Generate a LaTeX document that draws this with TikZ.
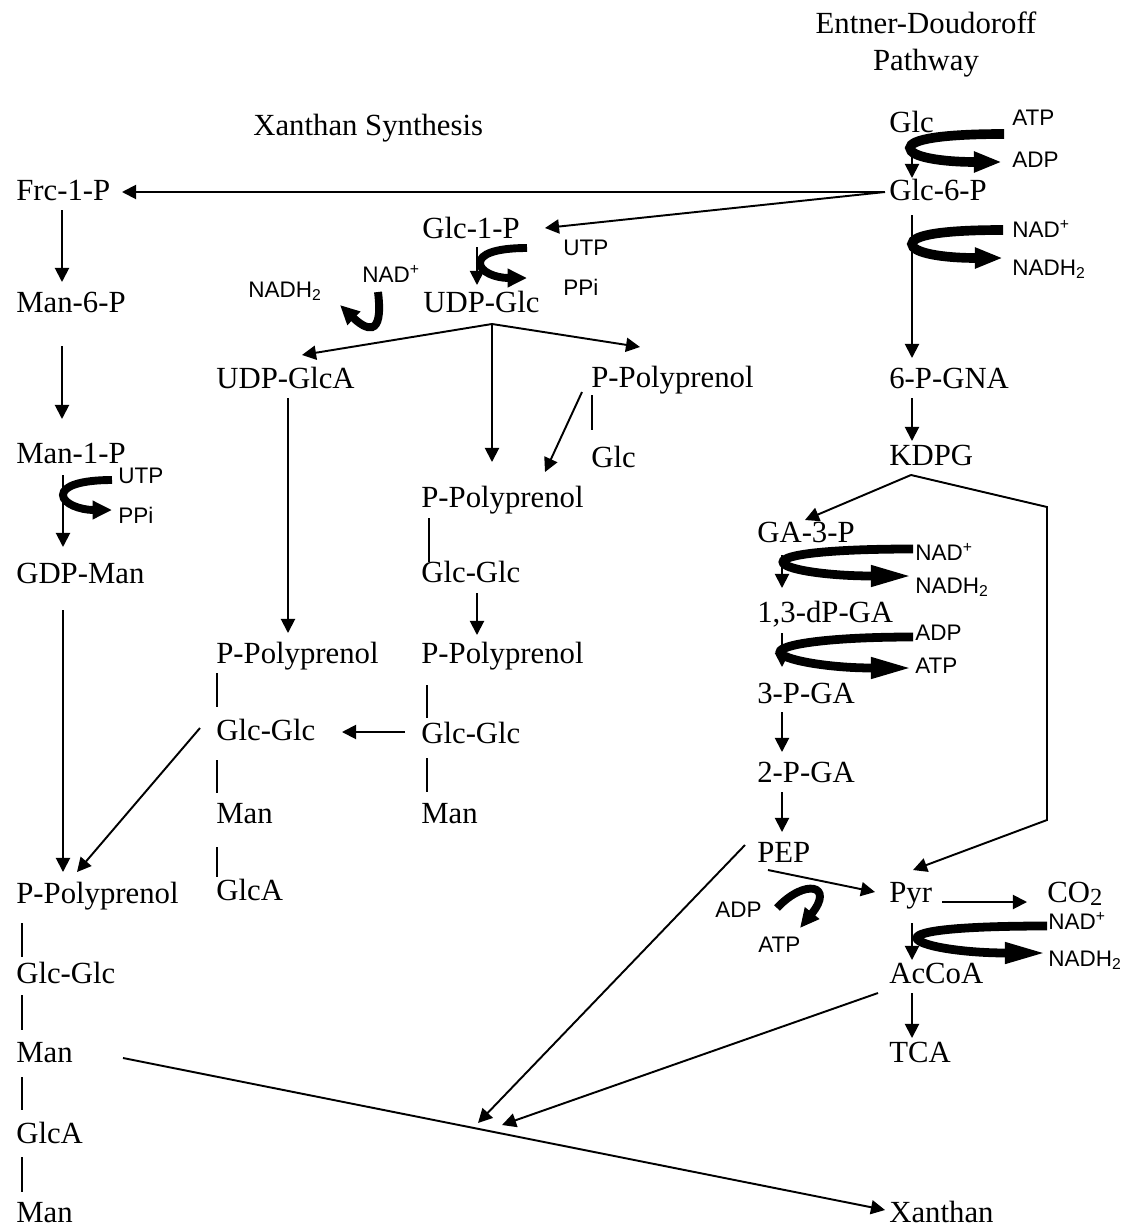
\documentclass[tikz,border=0pt]{standalone}
\usepackage{fontspec}
\setmainfont{Liberation Serif}
\newfontfamily\cofont{Liberation Sans}
\usetikzlibrary{arrows.meta}

\tikzset{
	mol/.style={anchor=base west,inner sep=0pt,font=\fontsize{17.5}{21}\selectfont},
	cof/.style={anchor=base west,inner sep=0pt,font=\cofont\fontsize{12.8}{15}\selectfont},
	arr/.style={line width=1.1pt,-{Triangle[length=8pt,width=8pt]}},
	bond/.style={line width=0.9pt},
	coarr/.style={line width=5.5pt,-{Triangle[length=16pt,width=11pt]}},
	coarrlong/.style={line width=5pt,-{Triangle[length=24pt,width=11pt]}},
	coarrsmall/.style={line width=4.5pt,-{Triangle[length=11pt,width=10pt]}}
}

\begin{document}
\begin{tikzpicture}[x=0.02cm,y=-0.02cm]
	\useasboundingbox (0,0) rectangle (1121,1227);

	% titles
	\node[mol,anchor=base] (edone) at (926,33) {Entner-Doudoroff};
	\node[mol,anchor=base] (edtwo) at (926,70) {Pathway};
	\node[mol] (xsyn) at (253,135) {Xanthan Synthesis};

	% Entner-Doudoroff pathway
	\node[mol] (glc) at (889,132) {Glc};
	\node[mol] (glcsixp) at (889,200) {Glc-6-P};
	\node[mol] (pgna) at (889,388) {6-P-GNA};
	\node[mol] (kdpg) at (889,465) {KDPG};
	\node[mol] (gathreep) at (757,542) {GA-3-P};
	\node[mol] (dpga) at (757,622) {1,3-dP-GA};
	\node[mol] (threepga) at (757,703) {3-P-GA};
	\node[mol] (twopga) at (757,782) {2-P-GA};
	\node[mol] (pep) at (757,862) {PEP};
	\node[mol] (pyr) at (889,902) {Pyr};
	\node[mol] (cotwo) at (1047,902) {CO\raisebox{-2pt}{\fontsize{14}{14}\selectfont 2}};
	\node[mol] (accoa) at (889,983) {AcCoA};
	\node[mol] (tca) at (889,1062) {TCA};
	\node[mol] (xanthan) at (889,1222) {Xanthan};

	% GDP-Man branch
	\node[mol] (frc) at (16,200) {Frc-1-P};
	\node[mol] (mansixp) at (16,312) {Man-6-P};
	\node[mol] (manonep) at (16,463) {Man-1-P};
	\node[mol] (gdpman) at (16,583) {GDP-Man};
	\node[mol] (lpp) at (16,903) {P-Polyprenol};
	\node[mol] (lgg) at (16,983) {Glc-Glc};
	\node[mol] (lman) at (16,1062) {Man};
	\node[mol] (lglca) at (16,1143) {GlcA};
	\node[mol] (lmanb) at (16,1222) {Man};

	% UDP-GlcA branch
	\node[mol] (udpglca) at (216,388) {UDP-GlcA};
	\node[mol] (bpp) at (216,663) {P-Polyprenol};
	\node[mol] (bgg) at (216,740) {Glc-Glc};
	\node[mol] (bman) at (216,823) {Man};
	\node[mol] (bglca) at (216,900) {GlcA};

	% UDP-Glc branch
	\node[mol] (glconep) at (422,238) {Glc-1-P};
	\node[mol] (udpglc) at (423,312) {UDP-Glc};
	\node[mol] (cpp) at (421,507) {P-Polyprenol};
	\node[mol] (cgg) at (421,582) {Glc-Glc};
	\node[mol] (cppb) at (421,663) {P-Polyprenol};
	\node[mol] (cggb) at (421,743) {Glc-Glc};
	\node[mol] (cman) at (421,823) {Man};
	\node[mol] (dpp) at (591,387) {P-Polyprenol};
	\node[mol] (dglc) at (591,467) {Glc};

	% cofactors
	\node[cof] (atpa) at (1012,125) {ATP};
	\node[cof] (adpa) at (1012,167) {ADP};
	\node[cof] (nada) at (1012,237) {NAD\textsuperscript{+}};
	\node[cof] (nadha) at (1012,275) {NADH\textsubscript{2}};
	\node[cof] (utpa) at (563,255) {UTP};
	\node[cof] (ppia) at (563,295) {PPi};
	\node[cof] (nadhb) at (248,297) {NADH\textsubscript{2}};
	\node[cof] (nadb) at (362,282) {NAD\textsuperscript{+}};
	\node[cof] (utpb) at (118,483) {UTP};
	\node[cof] (ppib) at (118,523) {PPi};
	\node[cof] (nadc) at (915,560) {NAD\textsuperscript{+}};
	\node[cof] (nadhc) at (915,593) {NADH\textsubscript{2}};
	\node[cof] (adpc) at (915,640) {ADP};
	\node[cof] (atpc) at (915,673) {ATP};
	\node[cof] (adpd) at (715,917) {ADP};
	\node[cof] (atpd) at (758,952) {ATP};
	\node[cof] (nadd) at (1048,929) {NAD\textsuperscript{+}};
	\node[cof] (nadhd) at (1048,966) {NADH\textsubscript{2}};

	\coordinate (merge) at (490,1126);

	% Entner-Doudoroff arrows
	\draw[arr] ([shift={(23,8)}]glc.base west) -- ([shift={(23,-22)}]glcsixp.base west);
	\draw[arr] ([shift={(23,15)}]glcsixp.base west) -- ([shift={(23,-30)}]pgna.base west);
	\draw[arr] ([shift={(23,10)}]pgna.base west) -- ([shift={(23,-24)}]kdpg.base west);
	\draw[arr] ([shift={(22,10)}]kdpg.base west) -- ([shift={(48,-22)}]gathreep.base west);
	\draw[arr] ([shift={(22,10)}]kdpg.base west) -- ++(136,32) -- ++(0,313) -- ([shift={(24,-32)}]pyr.base west);
	\draw[arr] ([shift={(25,13)}]gathreep.base west) -- ([shift={(25,-34)}]dpga.base west);
	\draw[arr] ([shift={(25,11)}]dpga.base west) -- ([shift={(25,-36)}]threepga.base west);
	\draw[arr] ([shift={(25,9)}]threepga.base west) -- ([shift={(25,-30)}]twopga.base west);
	\draw[arr] ([shift={(25,10)}]twopga.base west) -- ([shift={(25,-30)}]pep.base west);
	\draw[arr] ([shift={(11,8)}]pep.base west) -- ([shift={(-14,-10)}]pyr.base west);
	\draw[arr] ([shift={(53,0)}]pyr.base west) -- ([shift={(-20,0)}]cotwo.base west);
	\draw[arr] ([shift={(23,21)}]pyr.base west) -- ([shift={(23,-23)}]accoa.base west);
	\draw[arr] ([shift={(23,10)}]accoa.base west) -- ([shift={(23,-24)}]tca.base west);
	\draw[arr] ([shift={(-11,10)}]accoa.base west) -- ([shift={(12,-1)}]merge);
	\draw[arr] ([shift={(-12,-17)}]pep.base west) -- ([shift={(-12,-3)}]merge);
	\draw[arr] ([shift={(107,-4)}]lman.base west) -- ([shift={(-4,-12)}]xanthan.base west);

	% xanthan synthesis arrows
	\draw[arr] ([shift={(-4,-8)}]glcsixp.base west) -- ([shift={(106,-8)}]frc.base west);
	\draw[arr] ([shift={(-4,-8)}]glcsixp.base west) -- ([shift={(123,-10)}]glconep.base west);
	\draw[arr] ([shift={(46,10)}]frc.base west) -- ([shift={(46,-30)}]mansixp.base west);
	\draw[arr] ([shift={(46,34)}]mansixp.base west) -- ([shift={(46,-44)}]manonep.base west);
	\draw[arr] ([shift={(47,12)}]manonep.base west) -- ([shift={(47,-36)}]gdpman.base west);
	\draw[arr] ([shift={(47,27)}]gdpman.base west) -- ([shift={(47,-31)}]lpp.base west);
	\draw[arr] ([shift={(-16,-12)}]bgg.base west) -- ([shift={(61,-31)}]lpp.base west);
	\draw[arr] ([shift={(55,9)}]glconep.base west) -- ([shift={(54,-27)}]udpglc.base west);
	\draw[arr] ([shift={(69,12)}]udpglc.base west) -- ([shift={(86,-33)}]udpglca.base west);
	\draw[arr] ([shift={(69,12)}]udpglc.base west) -- ([shift={(49,-40)}]dpp.base west);
	\draw[arr] ([shift={(69,12)}]udpglc.base west) -- ([shift={(71,-45)}]cpp.base west);
	\draw[arr] ([shift={(-9,5)}]dpp.base west) -- ([shift={(124,-35)}]cpp.base west);
	\draw[arr] ([shift={(72,10)}]udpglca.base west) -- ([shift={(72,-30)}]bpp.base west);
	\draw[arr] ([shift={(56,11)}]cgg.base west) -- ([shift={(56,-28)}]cppb.base west);
	\draw[arr] ([shift={(-16,-11)}]cggb.base west) -- ([shift={(126,-8)}]bgg.base west);

	% bonds
	\draw[bond] ([shift={(1,8)}]dpp.base west) -- ([shift={(1,-37)}]dglc.base west);
	\draw[bond] ([shift={(8,11)}]cpp.base west) -- ([shift={(8,-20)}]cgg.base west);
	\draw[bond] ([shift={(1,10)}]bpp.base west) -- ([shift={(1,-33)}]bgg.base west);
	\draw[bond] ([shift={(1,20)}]bgg.base west) -- ([shift={(1,-30)}]bman.base west);
	\draw[bond] ([shift={(1,24)}]bman.base west) -- ([shift={(1,-23)}]bglca.base west);
	\draw[bond] ([shift={(6,22)}]cppb.base west) -- ([shift={(6,-25)}]cggb.base west);
	\draw[bond] ([shift={(6,15)}]cggb.base west) -- ([shift={(6,-31)}]cman.base west);
	\draw[bond] ([shift={(6,20)}]lpp.base west) -- ([shift={(6,-26)}]lgg.base west);
	\draw[bond] ([shift={(6,12)}]lgg.base west) -- ([shift={(6,-32)}]lman.base west);
	\draw[bond] ([shift={(6,15)}]lman.base west) -- ([shift={(6,-33)}]lglca.base west);
	\draw[bond] ([shift={(6,14)}]lglca.base west) -- ([shift={(6,-30)}]lmanb.base west);

	% cofactor arrows
	\draw[coarr] ([shift={(-8,9)}]atpa.base west) to[out=180,in=90,out distance=35pt,in distance=5pt] ++(-94,14) to[out=-90,in=180,out distance=5pt,in distance=35pt] ([shift={(-10,-5)}]adpa.base west);
	\draw[coarr] ([shift={(-9,-7)}]nada.base west) to[out=180,in=90,out distance=35pt,in distance=5pt] ++(-91,14) to[out=-90,in=180,out distance=5pt,in distance=35pt] ([shift={(-9,-17)}]nadha.base west);
	\draw[coarrsmall] ([shift={(-36,-7)}]utpa.base west) to[out=180,in=90,out distance=18pt,in distance=5pt] ++(-47,15) to[out=-90,in=180,out distance=5pt,in distance=18pt] ([shift={(-36,-17)}]ppia.base west);
	\draw[coarrsmall] ([shift={(16,10)}]nadb.base west) .. controls +(6,48) and +(25,24) .. ([shift={(92,8)}]nadhb.base west);
	\draw[coarrsmall] ([shift={(-6,-3)}]utpb.base west) to[out=180,in=90,out distance=18pt,in distance=5pt] ++(-49,15) to[out=-90,in=180,out distance=5pt,in distance=18pt] ([shift={(-6,-13)}]ppib.base west);
	\draw[coarrlong] ([shift={(-2,-11)}]nadc.base west) to[out=180,in=90,out distance=50pt,in distance=4pt] ++(-130,13) to[out=-90,in=180,out distance=4pt,in distance=50pt] ([shift={(-2,-17)}]nadhc.base west);
	\draw[coarrlong] ([shift={(-2,-3)}]adpc.base west) to[out=180,in=90,out distance=50pt,in distance=4pt] ++(-133,15) to[out=-90,in=180,out distance=4pt,in distance=50pt] ([shift={(-2,-5)}]atpc.base west);
	\draw[coarrsmall] ([shift={(62,-9)}]adpd.base west) .. controls +(28,-30) and +(35,-43) .. ([shift={(42,-24)}]atpd.base west);
	\draw[coarrlong] ([shift={(-1,-3)}]nadd.base west) to[out=180,in=90,out distance=50pt,in distance=4pt] ++(-130,12) to[out=-90,in=180,out distance=4pt,in distance=50pt] ([shift={(-1,-13)}]nadhd.base west);
\end{tikzpicture}
\end{document}
